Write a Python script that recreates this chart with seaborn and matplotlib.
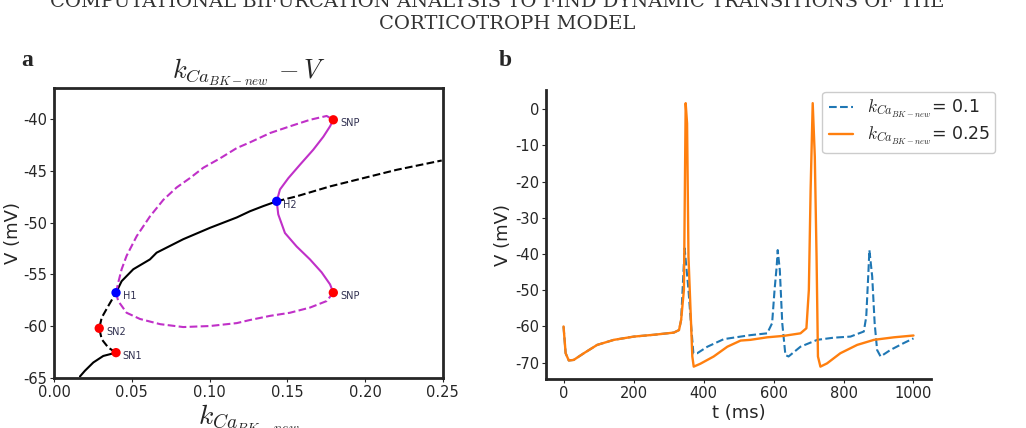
import numpy as np
import pandas as pd
import seaborn as sns
import matplotlib
matplotlib.use('Agg')
import matplotlib.pyplot as plt

sns.set_style('ticks')
plt.rcParams['font.family'] = ['DejaVu Sans']
plt.rcParams['mathtext.fontset'] = 'cm'
plt.rcParams['axes.unicode_minus'] = False

# --- panel a: bifurcation diagram (k_Ca vs V) ---
# equilibrium branch, stable bottom part up to SN1
eq_low_k = [0.0167, 0.0199, 0.0253, 0.0317, 0.0399]
eq_low_v = [-64.85, -64.3, -63.5, -62.87, -62.55]
# unstable part SN1 -> SN2 -> H1
eq_mid_k = [0.0399, 0.0349, 0.0307, 0.0291, 0.0307, 0.0349, 0.0399]
eq_mid_v = [-62.55, -62.06, -61.26, -60.2, -59.17, -58.05, -56.76]
# stable part H1 -> H2
eq_up_k = [0.0399, 0.0435, 0.0510, 0.0617, 0.0660, 0.0831, 0.1003, 0.1175, 0.1260, 0.1346, 0.1432]
eq_up_v = [-56.76, -55.65, -54.5, -53.55, -52.9, -51.6, -50.5, -49.5, -48.9, -48.4, -47.94]
# unstable part after H2
eq_top_k = [0.1432, 0.1560, 0.1775, 0.1989, 0.2203, 0.2493]
eq_top_v = [-47.94, -47.46, -46.5, -45.7, -44.9, -44.0]

# periodic orbit max / min (unstable, born at H1)
po1_max_k = [0.0399, 0.0413, 0.0435, 0.0467, 0.0532, 0.0617, 0.0703, 0.0789, 0.0874, 0.0960,
             0.1067, 0.1175, 0.1260, 0.1389, 0.1517, 0.1646, 0.1753, 0.1796]
po1_max_v = [-56.76, -55.8, -54.5, -53.2, -51.3, -49.4, -47.8, -46.6, -45.7, -44.7,
             -43.8, -42.8, -42.25, -41.35, -40.7, -40.07, -39.7, -40.07]
po1_min_k = [0.0399, 0.0413, 0.0467, 0.0553, 0.0682, 0.0831, 0.1003, 0.1175, 0.1260, 0.1389,
             0.1517, 0.1646, 0.1753, 0.1796]
po1_min_v = [-56.76, -57.57, -58.7, -59.3, -59.8, -60.08, -59.98, -59.7, -59.4, -59.0,
             -58.7, -58.2, -57.57, -56.76]
# periodic orbit (stable, born at H2)
po2_max_k = [0.1432, 0.1453, 0.1507, 0.1582, 0.1667, 0.1732, 0.1775, 0.1796]
po2_max_v = [-47.94, -46.8, -45.7, -44.4, -42.96, -41.7, -40.7, -40.07]
po2_min_k = [0.1432, 0.1442, 0.1485, 0.1560, 0.1646, 0.1721, 0.1775, 0.1796]
po2_min_v = [-47.94, -49.2, -51.0, -52.3, -53.55, -54.8, -55.96, -56.76]

# special points
pt_names = ['SN1', 'SN2', 'H1', 'H2', 'SNP', 'SNP']
pt_k = [0.0399, 0.0291, 0.0399, 0.1432, 0.1796, 0.1796]
pt_v = [-62.55, -60.2, -56.76, -47.94, -40.07, -56.76]
pt_col = ['red', 'red', 'blue', 'blue', 'red', 'red']

# --- panel b: voltage traces ---
t_a = [0, 6, 15, 29, 58, 96, 144, 201, 258, 315, 330, 336, 346, 357, 364, 371, 382, 411,
       458, 506, 534, 582, 596, 603, 609, 612, 618, 625, 634, 643, 677, 725, 772, 820,
       858, 865, 871, 874, 882, 889, 896, 906, 934, 972, 1000]
v_a = [-60.0, -67.4, -69.4, -69.25, -67.4, -65.1, -63.7, -62.8, -62.3, -61.7, -61.0, -58.2,
       -38.4, -49.9, -59.1, -67.4, -67.4, -65.6, -63.5, -62.8, -62.4, -61.9, -59.1, -49.9,
       -43.5, -38.9, -44.4, -59.1, -67.9, -68.3, -65.6, -63.7, -63.1, -62.8, -61.4, -57.3,
       -45.3, -38.9, -46.2, -59.1, -66.5, -68.3, -66.5, -64.6, -63.3]
t_b = [0, 6, 15, 29, 58, 96, 144, 201, 258, 315, 330, 336, 344, 349, 353, 357, 368, 372,
       391, 429, 468, 506, 534, 582, 629, 677, 694, 701, 706, 712, 718, 723, 727, 734,
       753, 791, 839, 887, 944, 1000]
v_b = [-60.0, -67.4, -69.4, -69.25, -67.4, -65.1, -63.7, -62.8, -62.3, -61.7, -61.0, -58.2,
       -49.9, 1.7, -3.9, -40.7, -68.3, -71.1, -70.3, -68.3, -65.6, -63.9, -63.7, -63.0,
       -62.6, -61.9, -60.5, -49.9, -22.3, 1.7, -13.1, -40.7, -68.3, -71.1, -70.2, -67.4,
       -65.1, -63.7, -63.0, -62.5]

lab = r'$k_{Ca_{BK-new}}$'

fig = plt.figure(figsize=(10.26, 4.28), dpi=100)
ax1 = fig.add_axes([0.0526, 0.1168, 0.379, 0.6776])
ax2 = fig.add_axes([0.5322, 0.1138, 0.3752, 0.6748])


def branch(ax, k, v, color, ls, lw=1.5):
    d = pd.DataFrame({'k': k, 'v': v})
    sns.lineplot(data=d, x='k', y='v', sort=False, estimator=None, color=color,
                 linestyle=ls, linewidth=lw, ax=ax)


branch(ax1, eq_low_k, eq_low_v, 'black', '-')
branch(ax1, eq_mid_k, eq_mid_v, 'black', '--')
branch(ax1, eq_up_k, eq_up_v, 'black', '-')
branch(ax1, eq_top_k, eq_top_v, 'black', '--')
branch(ax1, po1_max_k, po1_max_v, '#c030c8', '--')
branch(ax1, po1_min_k, po1_min_v, '#c030c8', '--')
branch(ax1, po2_max_k, po2_max_v, '#c030c8', '-')
branch(ax1, po2_min_k, po2_min_v, '#c030c8', '-')

pts = pd.DataFrame({'k': pt_k, 'v': pt_v, 'c': pt_col})
sns.scatterplot(data=pts, x='k', y='v', hue='c', palette={'red': 'red', 'blue': 'blue'},
                s=45, edgecolor='none', legend=False, zorder=5, ax=ax1)
for n, k, v in zip(pt_names, pt_k, pt_v):
    ax1.text(k + 0.0043, v - 0.35, n, fontsize=7, color='#303050', va='center')

ax1.set_xlim(0, 0.25)
ax1.set_ylim(-65, -37)
ax1.set_xticks(np.arange(0, 0.26, 0.05))
ax1.set_yticks(np.arange(-65, -39, 5))
ax1.tick_params(labelsize=10.5, length=3, pad=2)
for s in ax1.spines.values():
    s.set_linewidth(2)
ax1.set_xlabel(lab, fontsize=20, labelpad=2)
ax1.set_ylabel('V (mV)', fontsize=13, labelpad=1)
ax1.set_title(lab + r'$\,-V$', fontsize=19, pad=5)

d1 = pd.DataFrame({'t': t_a, 'v': v_a})
d2 = pd.DataFrame({'t': t_b, 'v': v_b})
sns.lineplot(data=d1, x='t', y='v', sort=False, estimator=None, color='#1f77b4',
             linestyle='--', linewidth=1.5, label=lab + '= 0.1', ax=ax2)
sns.lineplot(data=d2, x='t', y='v', sort=False, estimator=None, color='#ff7f0e',
             linewidth=1.7, label=lab + '= 0.25', ax=ax2)
sns.despine(ax=ax2)
for s in ax2.spines.values():
    s.set_linewidth(2)
ax2.set_xlim(-50, 1050)
ax2.set_ylim(-74.6, 5.2)
ax2.set_xticks(np.arange(0, 1001, 200))
ax2.set_yticks(np.arange(-70, 1, 10))
ax2.tick_params(labelsize=10.5, length=3, pad=2)
ax2.set_xlabel('t (ms)', fontsize=13, labelpad=2)
ax2.set_ylabel('V (mV)', fontsize=13, labelpad=2)
ax2.legend(loc='upper right', bbox_to_anchor=(1.19, 1.026), fontsize=12.5, framealpha=1,
           handlelength=1.4, borderpad=0.35, labelspacing=0.3)

fig.text(0.021, 0.845, 'a', fontsize=17, fontweight='bold', family='Liberation Serif')
fig.text(0.486, 0.845, 'b', fontsize=17, fontweight='bold', family='Liberation Serif')
fig.text(0.485, 0.995, 'COMPUTATIONAL BIFURCATION ANALYSIS TO FIND DYNAMIC TRANSITIONS OF THE',
         ha='center', va='center', fontsize=14, family='DejaVu Serif', color='#333333')
fig.text(0.494, 0.945, 'CORTICOTROPH MODEL', ha='center', va='center', fontsize=14,
         family='DejaVu Serif', color='#333333')

fig.savefig('out.png', dpi=100)
